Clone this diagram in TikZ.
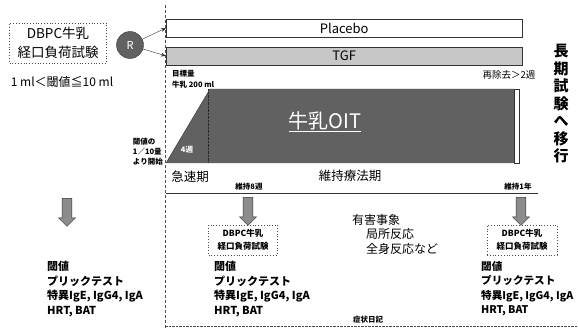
\documentclass[tikz,border=0pt]{standalone}
\usepackage{fontspec}
\setmainfont{Noto Sans CJK JP}
\usetikzlibrary{shapes.arrows,arrows.meta}
\tikzset{
  dotbox/.style={draw=black!70,dotted,thick,align=center,inner sep=3pt},
  smallb/.style={font=\fontsize{7.5}{9}\selectfont\bfseries,inner sep=0pt},
  listtext/.style={font=\fontsize{11}{14.5}\selectfont\bfseries,align=left,anchor=north west,inner sep=0pt},
  blockarrow/.style={single arrow,draw=black!80,fill=black!45,shape border rotate=270,minimum height=28pt,minimum width=17pt,single arrow head extend=2pt,inner sep=2.5pt},
  armbox/.style={draw=black!80,minimum height=18pt,minimum width=356pt,inner sep=0pt,font=\fontsize{13}{15}\selectfont},
}
\begin{document}
\begin{tikzpicture}[x=1pt,y=-1pt]
\useasboundingbox (0,0) rectangle (578,329);
% dashed vertical divider
\coordinate (dtop) at (165,5);
\coordinate (dbot) at (165,329);
\draw[densely dashed,black!70,thin] (dtop) -- (dbot);
% left box
\node[dotbox,minimum width=97pt,minimum height=40pt,font=\fontsize{13.5}{19}\selectfont] (dbpc0) at (58,43) {DBPC牛乳\\経口負荷試験};
\node[font=\fontsize{12}{14}\selectfont,inner sep=0pt] (thr) at (62,82) {1 ml＜閾値≦10 ml};
% R circle
\node[circle,draw=black!80,fill=black!62,minimum size=27pt,inner sep=0pt,text=white,font=\fontsize{11}{12}\selectfont] (R) at (130,45) {R};
% arms
\node[armbox,fill=white,anchor=west] (placebo) at (166,28) {Placebo};
\node[armbox,fill=black!22,anchor=west] (tgf) at (166,56) {TGF};
\draw[-{Stealth[length=5pt]},black!80] (R) -- (placebo.west);
\draw[-{Stealth[length=5pt]},black!80] (R) -- (tgf.west);
% trapezoid
\coordinate (tbl) at (166,163);
\coordinate (ttl) at (210,89);
\coordinate (ttr) at (514,89);
\coordinate (tbr) at (514,163);
\fill[black!62] (tbl) -- (ttl) -- (ttr) -- (tbr) -- cycle;
\draw[black!80,thin] (tbl) -- (ttl) -- (ttr);
\coordinate (dv1) at (208,89);
\coordinate (dv2) at (208,163);
\draw[black!85,densely dotted] (dv1) -- (dv2);
\node[draw=black!80,fill=white,minimum width=5pt,minimum height=74pt,inner sep=0pt,anchor=north west] (strip) at (514,89) {};
\node[text=white,font=\fontsize{20}{22}\selectfont,inner sep=0pt] (oit) at (325,122) {\underline{牛乳OIT}};
\node[text=white,smallb] (w4) at (187,150) {4週};
% labels around trapezoid
\node[smallb,align=left,anchor=north west] (target) at (172,70) {目標量\\[2pt]牛乳 200 ml};
\node[smallb,align=left,anchor=east,font=\fontsize{7.5}{10}\selectfont\bfseries] (start) at (163,152) {閾値の\\1／10量\\より開始};
\node[font=\fontsize{9.5}{11}\selectfont,inner sep=0pt] (remove) at (509,75) {再除去＞2週};
\node[font=\fontsize{15}{17.5}\selectfont\bfseries,align=center,inner sep=0pt] (longterm) at (561,104) {長\\期\\試\\験\\へ\\移\\行};
% phases
\node[font=\fontsize{12.5}{15}\selectfont,inner sep=0pt] (rapid) at (190,177) {急速期};
\node[font=\fontsize{12.5}{15}\selectfont,inner sep=0pt] (maint) at (350,176) {維持療法期};
\coordinate (hl1) at (166,193);
\coordinate (hl2) at (538,193);
\draw[black!80] (hl1) -- (hl2);
% left arrow + list
\node[blockarrow] (arr0) at (67,210) {};
\node[listtext] (list0) at (47,261) {閾値\\プリックテスト\\特異IgE, IgG4, IgA\\HRT, BAT};
% 8 weeks
\node[smallb] (m8) at (249,187) {維持8週};
\node[blockarrow] (arr1) at (248,209) {};
\node[dotbox,minimum width=69pt,minimum height=30pt,font=\fontsize{8.5}{13}\selectfont\bfseries] (dbpc1) at (243,240) {DBPC牛乳\\経口負荷試験};
\node[listtext] (list1) at (214,261) {閾値\\プリックテスト\\特異IgE, IgG4, IgA\\HRT, BAT};
% adverse events
\node[font=\fontsize{12}{14.5}\selectfont,align=left,anchor=north west,inner sep=0pt] (ae) at (352,214) {有害事象\\\hspace*{14pt}局所反応\\\hspace*{14pt}全身反応など};
% 1 year
\node[smallb] (m1y) at (518,187) {維持1年};
\node[blockarrow] (arr2) at (521,209) {};
\node[dotbox,minimum width=70pt,minimum height=30pt,font=\fontsize{8.5}{13}\selectfont\bfseries] (dbpc2) at (522,240) {DBPC牛乳\\経口負荷試験};
\node[listtext,font=\fontsize{10.6}{14.5}\selectfont\bfseries] (list2) at (481,261) {閾値\\プリックテスト\\特異IgE, IgG4, IgA\\HRT, BAT};
% diary
\node[smallb] (diary) at (368,320) {症状日記};
\coordinate (bl1) at (166,326);
\coordinate (bl2) at (578,326);
\draw[black!70,densely dotted] (bl1) -- (bl2);
\end{tikzpicture}
\end{document}
